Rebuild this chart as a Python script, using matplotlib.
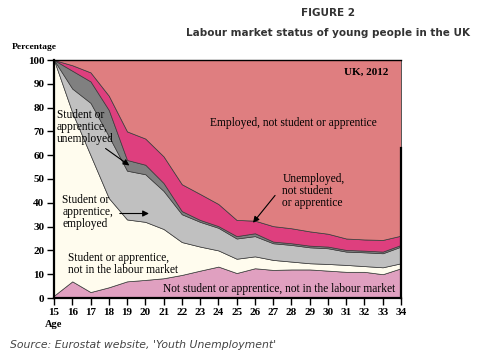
import matplotlib
matplotlib.use("Agg")
import matplotlib.pyplot as plt

# age groups and shares (%) of each labour market status
ages = list(range(15, 35))
not_student_not_lm = [1, 7, 2.5, 4.5, 7, 7.6, 8.3, 9.7, 11.5, 13.2, 10.5, 12.5, 11.8, 12, 12, 11.5, 11, 11, 10, 12.5]
student_not_lm = [99, 71, 57.5, 37.5, 26, 24.4, 20.7, 13.8, 10.1, 6.8, 6, 5, 4.2, 3.3, 2.6, 2.8, 2.9, 2.4, 2.9, 2.1]
student_employed = [0, 10, 22, 26, 20.5, 20, 16, 11.7, 10.4, 9.5, 8.5, 8.5, 7, 7, 6.7, 6.6, 5.6, 5.8, 5.9, 7]
student_unemployed = [0, 7.5, 9, 11, 4.5, 4, 3.3, 1.3, 0.8, 0.7, 1, 1.2, 0.7, 0.7, 0.7, 0.7, 0.7, 0.7, 0.7, 0.7]
unemployed_not_student = [0, 2.3, 3.8, 6, 12, 11, 11.2, 11.3, 10.9, 9.3, 6.8, 5.3, 6.5, 6.3, 6, 5.4, 4.8, 4.7, 4.9, 3.9]
employed_not_student = [0, 2.2, 5.2, 15, 30, 33, 40.5, 52.2, 56.3, 60.5, 67.2, 67.5, 69.8, 70.7, 72, 73, 75, 75.4, 75.6, 73.8]

colors = ["#e0a0c0", "#fffcee", "#c0c0c0", "#808080", "#de3f7e", "#df7e80"]
serif = "Liberation Serif"
fs = 8.3

fig = plt.figure(figsize=(4.95, 3.59), dpi=100)
ax = fig.add_axes([54 / 495, 61 / 359, 347 / 495, 238 / 359])

ax.stackplot(ages, not_student_not_lm, student_not_lm, student_employed,
             student_unemployed, unemployed_not_student, employed_not_student,
             colors=colors, edgecolor="#3a3a3a", linewidth=0.5)

ax.set_xlim(15, 34)
ax.set_ylim(0, 100)
ax.set_xticks(ages)
ax.set_yticks(range(0, 101, 10))
ax.tick_params(axis="both", direction="out", length=5, width=1, pad=2)
for lbl in ax.get_xticklabels() + ax.get_yticklabels():
    lbl.set_fontfamily(serif)
    lbl.set_fontweight("bold")
    lbl.set_fontsize(8)

for side in ["left", "bottom"]:
    ax.spines[side].set_linewidth(1.6)
ax.spines["top"].set_linewidth(1.0)
ax.spines["right"].set_linewidth(0.6)
ax.spines["right"].set_color("#555555")
ax.plot([34, 34], [0, 63], color="black", lw=1.6, clip_on=False, zorder=5)

fig.text(12 / 495, 1 - 47 / 359, "Percentage", ha="left", va="center",
         family=serif, fontweight="bold", fontsize=6.8)
ax.text(15, -9.3, "Age", ha="center", va="top", family=serif, fontweight="bold", fontsize=7.5)

ax.text(32.1, 95, "UK, 2012", ha="center", va="center", family=serif, fontweight="bold", fontsize=8)
ax.text(28.1, 73.5, "Employed, not student or apprentice", ha="center", va="center",
        family=serif, fontsize=fs)
ax.text(27.5, 52.5, "Unemployed,\nnot student\nor apprentice", ha="left", va="top",
        family=serif, fontsize=fs, linespacing=1.0)
ax.annotate("", xy=(25.8, 30.7), xytext=(27.2, 44),
            arrowprops=dict(arrowstyle="-|>", color="black", lw=0.8, mutation_scale=9))
ax.text(15.15, 79.5, "Student or\napprentice,\nunemployed", ha="left", va="top",
        family=serif, fontsize=fs, linespacing=1.0)
ax.annotate("", xy=(19.25, 55), xytext=(17.7, 63.5),
            arrowprops=dict(arrowstyle="-|>", color="black", lw=0.8, mutation_scale=9))
ax.text(15.45, 43.8, "Student or\napprentice,\nemployed", ha="left", va="top",
        family=serif, fontsize=fs, linespacing=1.0)
ax.annotate("", xy=(20.35, 35.5), xytext=(18.45, 35.5),
            arrowprops=dict(arrowstyle="-|>", color="black", lw=0.8, mutation_scale=9))
ax.text(15.77, 19.3, "Student or apprentice,\nnot in the labour market", ha="left", va="top",
        family=serif, fontsize=fs, linespacing=1.0)
ax.text(27.35, 3.6, "Not student or apprentice, not in the labour market", ha="center", va="center",
        family=serif, fontsize=fs)

fig.text(328 / 495, 1 - 13 / 359, "FIGURE 2", ha="center", va="center",
         family="DejaVu Sans", fontweight="bold", fontsize=7.5, color="#333333")
fig.text(328 / 495, 1 - 33 / 359, "Labour market status of young people in the UK", ha="center",
         va="center", family="DejaVu Sans", fontweight="bold", fontsize=7.5, color="#333333")
fig.text(10 / 495, 1 - 345 / 359, "Source: Eurostat website, 'Youth Unemployment'", ha="left",
         va="center", family="DejaVu Sans", style="italic", fontsize=7.8, color="#444444")

fig.savefig("out.png", dpi=100)
plt.close(fig)
